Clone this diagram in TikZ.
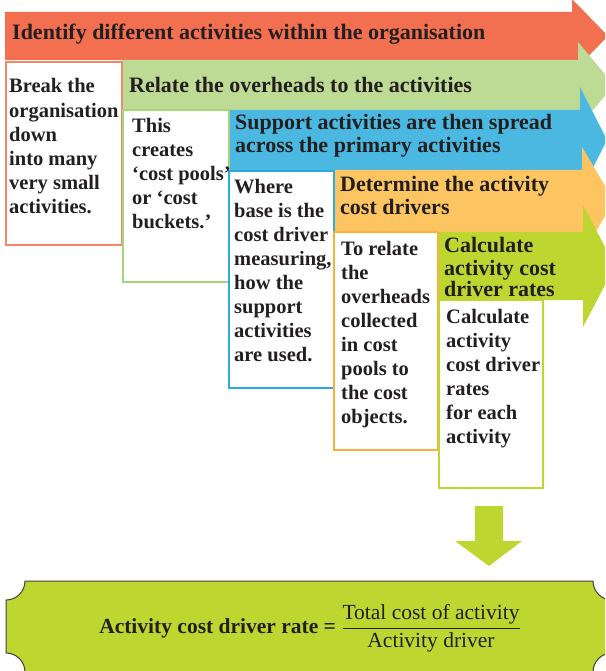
\documentclass[tikz,border=0pt]{standalone}
\usepackage{amsmath}
\usepackage{fontspec}
\setmainfont{Liberation Serif}
\definecolor{actred}{HTML}{F26F50}
\definecolor{actredline}{HTML}{F4876A}
\definecolor{actgreen}{HTML}{BEDB95}
\definecolor{actgreenline}{HTML}{A9D37A}
\definecolor{actblue}{HTML}{4AB8E1}
\definecolor{actblueline}{HTML}{29ABE2}
\definecolor{actorange}{HTML}{FDC561}
\definecolor{actorangeline}{HTML}{FBB03B}
\definecolor{actlime}{HTML}{BED630}
\definecolor{ink}{HTML}{231F20}
\begin{document}
\begin{tikzpicture} [x = 1pt, y = -1pt,
	head/.style = {anchor = north west, inner sep = 0pt, align = left, text = ink, font = \fontsize{22}{21}\selectfont\bfseries},
	body/.style = {anchor = north west, inner sep = 0pt, align = left, text = ink, font = \fontsize{20.5}{24}\selectfont\bfseries},
	frame/.style = {line width = 1.5pt}]
	\useasboundingbox (0,0) rectangle (605,671);
	\clip (0,0) rectangle (605,671);
	\fill [actred] (5,12) -- (572,12) -- (572,-1) -- (608,36) -- (572,73) -- (572,60) -- (5,60) -- cycle;
	\fill [actgreen] (122,60) -- (578,60) -- (578,42) -- (614,85) -- (578,128) -- (578,110) -- (122,110) -- cycle;
	\fill [actblue] (229,110) -- (580,110) -- (580,87) -- (607,140) -- (580,193) -- (580,170) -- (229,170) -- cycle;
	\fill [actorange] (334,170) -- (582,170) -- (582,147) -- (614,201) -- (582,255) -- (582,232) -- (334,232) -- cycle;
	\fill [actlime] (438,232) -- (583,232) -- (583,205) -- (615,266) -- (583,327) -- (583,300) -- (438,300) -- cycle;
	\draw [frame, draw = actredline] (6,62) rectangle (122,245);
	\draw [frame, draw = actgreenline] (123,110) rectangle (229,282);
	\draw [frame, draw = actblueline] (229,171) rectangle (334,388);
	\draw [frame, draw = actorangeline] (334,232) rectangle (438,450);
	\draw [frame, draw = actlime] (439,300) rectangle (543,488);
	\node [head] (identify) at (12,24) {\strut Identify different activities within the organisation};
	\node [head] (relate) at (129,77.5) {\strut Relate the overheads to the activities};
	\node [head] (support) at (235,114.5) {\strut Support activities are then spread\\across the primary activities};
	\node [head] (determine) at (340,176.5) {\strut Determine the activity\\cost drivers};
	\node [head] (calculate) at (444,237.5) {\strut Calculate\\activity cost\\driver rates};
	\node [body] (breakdown) at (9,76) {\strut Break the\\organisation\\down\\into many\\very small\\activities.};
	\node [body] (pools) at (132,115) {\strut This\\creates\\‘cost pools’\\or ‘cost\\buckets.’};
	\node [body] (base) at (234,176) {\strut Where\\base is the\\cost driver\\measuring,\\how the\\support\\activities\\are used.};
	\node [body] (torelate) at (341,238) {\strut To relate\\the\\overheads\\collected\\in cost\\pools to\\the cost\\objects.};
	\node [body] (rates) at (446,306) {\strut Calculate\\activity\\cost driver\\rates\\for each\\activity};
	\fill [actlime] (475,506) -- (503,506) -- (503,541) -- (522,541) -- (489,566) -- (455,541) -- (475,541) -- cycle;
	\draw [fill = actlime, draw = black!75, line width = 1pt] (25,581) -- (593,581) arc (180:90:19) -- (612,653) arc (270:180:19) -- (25,672) arc (0:-90:19) -- (6,600) arc (90:0:19) -- cycle;
	\node [text = ink, font = \fontsize{21.5}{24}\selectfont] (formula) at (310,628) {\textbf{Activity cost driver rate =} $\dfrac{\text{Total cost of activity}}{\text{Activity driver}}$};
\end{tikzpicture}
\end{document}
